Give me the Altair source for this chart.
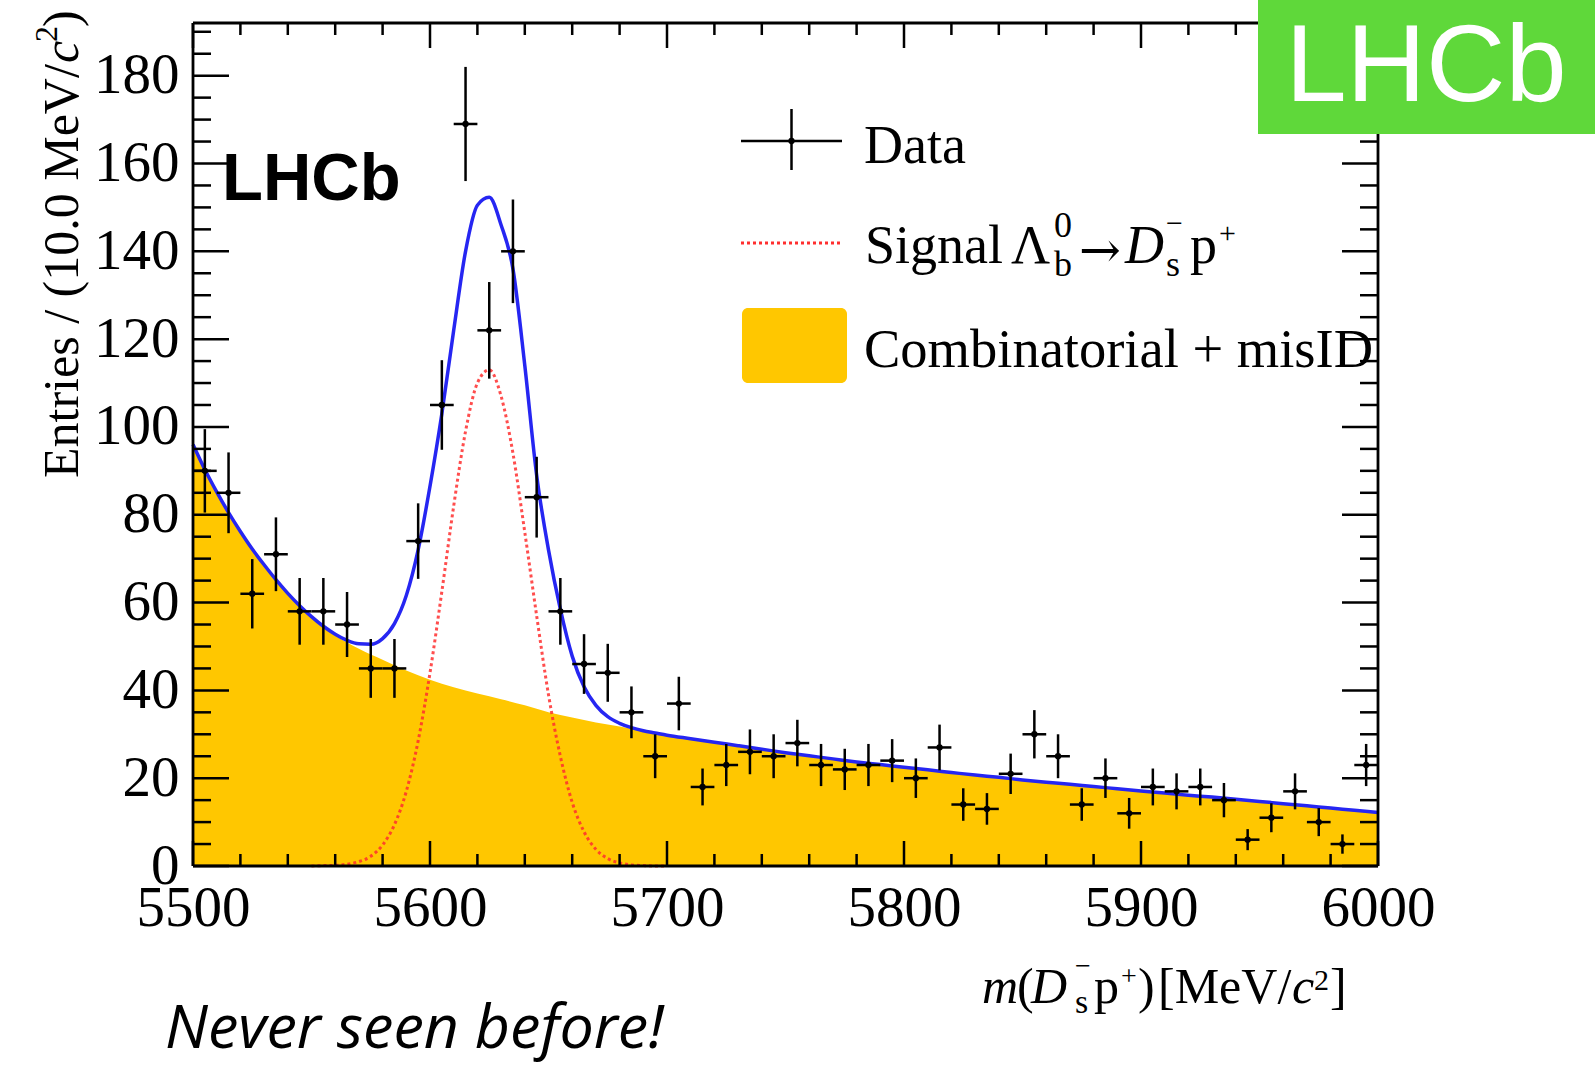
import altair as alt
import pandas as pd

# ---------------- data ----------------
bin_centres = [5505, 5515, 5525, 5535, 5545, 5555, 5565, 5575, 5585, 5595,
               5605, 5615, 5625, 5635, 5645, 5655, 5665, 5675, 5685, 5695,
               5705, 5715, 5725, 5735, 5745, 5755, 5765, 5775, 5785, 5795,
               5805, 5815, 5825, 5835, 5845, 5855, 5865, 5875, 5885, 5895,
               5905, 5915, 5925, 5935, 5945, 5955, 5965, 5975, 5985, 5995]
counts = [90, 85, 62, 71, 58, 58, 55, 45, 45, 74,
          105, 169, 122, 140, 84, 58, 46, 44, 35, 25,
          37, 18, 23, 26, 25, 28, 23, 22, 23, 24,
          20, 27, 14, 13, 21, 30, 25, 14, 20, 12,
          18, 17, 18, 15, 6, 11, 17, 10, 5, 23]
count_errors = [9.5, 9.2, 7.9, 8.4, 7.6, 7.6, 7.4, 6.7, 6.7, 8.6,
                10.2, 13.0, 11.0, 11.8, 9.2, 7.6, 6.8, 6.6, 5.9, 5.0,
                6.1, 4.2, 4.8, 5.1, 5.0, 5.3, 4.8, 4.7, 4.8, 4.9,
                4.5, 5.2, 3.7, 3.6, 4.6, 5.5, 5.0, 3.7, 4.5, 3.5,
                4.2, 4.1, 4.2, 3.9, 2.4, 3.3, 4.1, 3.2, 2.2, 4.8]
half_bin = 5

bkg_mass = [5500, 5510, 5520, 5530, 5540, 5550, 5560, 5570, 5580, 5590,
            5600, 5610, 5620, 5630, 5640, 5650, 5660, 5670, 5680, 5690,
            5700, 5710, 5720, 5730, 5740, 5750, 5760, 5770, 5780, 5790,
            5800, 5810, 5820, 5830, 5840, 5850, 5860, 5870, 5880, 5890,
            5900, 5910, 5920, 5930, 5940, 5950, 5960, 5970, 5980, 5990, 6000]
bkg_vals = [96, 85, 76, 68.5, 62, 56.5, 52.5, 49.5, 47, 44.5,
            42.4, 40.7, 39.3, 38, 36.6, 35, 33.8, 32.7, 31.8, 30.8,
            29.8, 29, 28.2, 27.4, 26.6, 25.8, 25.1, 24.4, 23.7, 23.1,
            22.5, 21.9, 21.3, 20.7, 20.2, 19.6, 19.1, 18.6, 18.1, 17.6,
            17.1, 16.6, 16.1, 15.7, 15.2, 14.7, 14.2, 13.7, 13.2, 12.7, 12.2]

total_mass = [5500, 5505, 5510, 5515, 5520, 5525, 5530, 5535, 5540, 5545,
              5550, 5555, 5560, 5565, 5570, 5575, 5580, 5585, 5590, 5595,
              5600, 5605, 5610, 5615, 5620, 5625, 5630, 5635, 5640, 5645,
              5650, 5655, 5660, 5665, 5670, 5675, 5680, 5685, 5690, 5695,
              5700, 5710, 5720, 5730, 5740, 5750, 5760, 5770, 5780, 5790,
              5800, 5810, 5820, 5830, 5840, 5850, 5860, 5870, 5880, 5890,
              5900, 5910, 5920, 5930, 5940, 5950, 5960, 5970, 5980, 5990, 6000]
total_vals = [96, 90.3, 85.2, 80.5, 76.2, 72.2, 68.6, 65.2, 62.1, 59.3,
              56.8, 54.6, 52.8, 51.4, 50.6, 50.5, 51.8, 55.2, 61.6, 72,
              86.5, 103, 122, 140, 150.5, 152.3, 146, 136, 114, 89,
              72, 58.5, 47.8, 40.8, 36.6, 34, 32.5, 31.5, 30.8, 30.3,
              29.8, 29, 28.2, 27.4, 26.6, 25.8, 25.1, 24.4, 23.7, 23.1,
              22.5, 21.9, 21.3, 20.7, 20.2, 19.6, 19.1, 18.6, 18.1, 17.6,
              17.1, 16.6, 16.1, 15.7, 15.2, 14.7, 14.2, 13.7, 13.2, 12.7, 12.2]

sig_mass = [5550, 5555, 5560, 5565, 5570, 5575, 5580, 5585, 5590, 5595,
            5600, 5605, 5610, 5615, 5620, 5625, 5630, 5635, 5640, 5645,
            5650, 5655, 5660, 5665, 5670, 5675, 5680, 5685, 5690, 5695, 5700]
sig_vals = [0, 0.1, 0.15, 0.4, 1, 2.2, 4.8, 9.4, 17, 28.5,
            44, 62.5, 82, 99, 110, 113, 107, 94, 76, 57,
            39, 25, 14.5, 7.8, 3.8, 1.7, 0.7, 0.25, 0.1, 0, 0]

x_tick_labels = [5500, 5600, 5700, 5800, 5900, 6000]
x_minor_ticks = [5520, 5540, 5560, 5580, 5620, 5640, 5660, 5680, 5720, 5740,
                 5760, 5780, 5820, 5840, 5860, 5880, 5920, 5940, 5960, 5980]
y_tick_labels = [0, 20, 40, 60, 80, 100, 120, 140, 160, 180]
y_minor_ticks = [5, 10, 15, 25, 30, 35, 45, 50, 55, 65, 70, 75, 85, 90, 95,
                 105, 110, 115, 125, 130, 135, 145, 150, 155, 165, 170, 175,
                 185, 190]

# ---------------- styling ----------------
W, H = 1185, 843
SERIF = "Liberation Serif"
SANS = "Liberation Sans"
YEL = "#FFC700"
BLUE = "#2626F2"
RED = "#FF2E2E"
GREEN = "#5FD83A"

xs = alt.Scale(domain=[5500, 6000], nice=False, zero=False)
ys = alt.Scale(domain=[0, 192], nice=False)
xaxis = alt.Axis(values=x_tick_labels, title="", ticks=False, tickSize=0, domain=False,
                 grid=False, labelFont=SERIF, labelFontSize=57, labelColor="black",
                 labelPadding=14, labelFlush=False, labelOverlap=False, format="d", zindex=1)
yaxis = alt.Axis(values=y_tick_labels, title="", ticks=False, tickSize=0, domain=False,
                 grid=False, labelFont=SERIF, labelFontSize=57, labelColor="black",
                 labelPadding=14, labelOverlap=False, format="d", zindex=1)


def X(f):
    return alt.X(f, type="quantitative", scale=xs, axis=xaxis)


def Y(f):
    return alt.Y(f, type="quantitative", scale=ys, axis=yaxis)


pts = pd.DataFrame({"m": bin_centres, "c": counts, "e": count_errors})
pts["lo"] = pts["c"] - pts["e"]
pts["hi"] = pts["c"] + pts["e"]
pts["xlo"] = pts["m"] - half_bin
pts["xhi"] = pts["m"] + half_bin

bkg_df = pd.DataFrame({"m": bkg_mass, "v": bkg_vals})
tot_df = pd.DataFrame({"m": total_mass, "v": total_vals})
sig_df = pd.DataFrame({"m": sig_mass, "v": sig_vals})

one = pd.DataFrame({"a": [0]})

layers = []
layers.append(alt.Chart(bkg_df).mark_area(color=YEL, interpolate="monotone", opacity=1)
              .encode(x=X("m"), y=Y("v")))
layers.append(alt.Chart(sig_df).mark_line(color=RED, strokeWidth=3, strokeDash=[3, 3],
                                          interpolate="monotone", opacity=0.85)
              .encode(x=X("m"), y=Y("v")))
layers.append(alt.Chart(tot_df).mark_line(color=BLUE, strokeWidth=3.5, interpolate="monotone")
              .encode(x=X("m"), y=Y("v")))
layers.append(alt.Chart(pts).mark_rule(color="black", strokeWidth=2.5)
              .encode(x=X("m"), y=Y("lo"), y2="hi:Q"))
layers.append(alt.Chart(pts).mark_rule(color="black", strokeWidth=2.5)
              .encode(x=X("xlo"), x2="xhi:Q", y=Y("c")))
layers.append(alt.Chart(pts).mark_circle(color="black", size=40, opacity=1)
              .encode(x=X("m"), y=Y("c")))

# inner ticks on all four sides
ymaj = pd.DataFrame({"v": y_tick_labels})
ymin = pd.DataFrame({"v": y_minor_ticks})
xmaj = pd.DataFrame({"v": x_tick_labels})
xmin = pd.DataFrame({"v": x_minor_ticks})
for df, ln in ((ymaj, 36), (ymin, 18)):
    layers.append(alt.Chart(df).mark_rule(color="black", strokeWidth=2.5)
                  .encode(y=Y("v"), x=alt.value(0), x2=alt.value(ln)))
    layers.append(alt.Chart(df).mark_rule(color="black", strokeWidth=2.5)
                  .encode(y=Y("v"), x=alt.value(W - ln), x2=alt.value(W)))
for df, ln in ((xmaj, 25), (xmin, 12)):
    layers.append(alt.Chart(df).mark_rule(color="black", strokeWidth=2.5)
                  .encode(x=X("v"), y=alt.value(H), y2=alt.value(H - ln)))
    layers.append(alt.Chart(df).mark_rule(color="black", strokeWidth=2.5)
                  .encode(x=X("v"), y=alt.value(0), y2=alt.value(ln)))

# frame
for enc in (dict(x=alt.value(0), x2=alt.value(W), y=alt.value(0)),
            dict(x=alt.value(0), x2=alt.value(W), y=alt.value(H)),
            dict(y=alt.value(0), y2=alt.value(H), x=alt.value(0)),
            dict(y=alt.value(0), y2=alt.value(H), x=alt.value(W))):
    layers.append(alt.Chart(one).mark_rule(color="black", strokeWidth=2.8).encode(**enc))


def txt(s, x, y, size, font=SERIF, style="normal", weight="normal", color="black",
        align="left", angle=0):
    kw = dict(font=font, fontSize=size, fontStyle=style, fontWeight=weight, color=color,
              align=align, baseline="alphabetic")
    if angle:
        kw["angle"] = angle
    return (alt.Chart(pd.DataFrame({"t": [s]})).mark_text(**kw)
            .encode(text="t:N", x=alt.value(x), y=alt.value(y)))


# LHCb label inside plot
layers.append(txt("LHCb", 29, 177, 67, font=SANS, weight="bold"))

# legend
layers.append(alt.Chart(one).mark_rule(color="black", strokeWidth=2.5)
              .encode(x=alt.value(548), x2=alt.value(649), y=alt.value(118)))
layers.append(alt.Chart(one).mark_rule(color="black", strokeWidth=2.5)
              .encode(x=alt.value(598.5), y=alt.value(86), y2=alt.value(147)))
layers.append(alt.Chart(one).mark_circle(color="black", size=40, opacity=1)
              .encode(x=alt.value(598.5), y=alt.value(118)))
layers.append(alt.Chart(one).mark_rule(color=RED, strokeWidth=3, strokeDash=[3, 3])
              .encode(x=alt.value(548), x2=alt.value(649), y=alt.value(220)))
layers.append(alt.Chart(one).mark_rect(color=YEL, cornerRadius=6)
              .encode(x=alt.value(549), x2=alt.value(654), y=alt.value(285), y2=alt.value(360)))
layers.append(txt("Data", 671, 140, 54))
layers.append(txt("Combinatorial + misID", 671, 344, 54.5))
layers.append(txt("Signal", 672, 240, 54))
layers.append(txt("\u039b", 818, 240, 54))
layers.append(txt("0", 861, 214, 36))
layers.append(txt("b", 861, 253, 36))
layers.append(txt("\u2192", 886, 244, 50, font="DejaVu Serif"))
layers.append(txt("D", 932, 240, 54, style="italic"))
layers.append(txt("\u2212", 973, 210, 30))
layers.append(txt("s", 973, 253, 36))
layers.append(txt("p", 997, 240, 54))
layers.append(txt("+", 1026, 220, 30))

# x-axis title
layers.append(txt("m", 789, 980, 50, style="italic"))
layers.append(txt("(", 824, 980, 50))
layers.append(txt("D", 838, 980, 50, style="italic"))
layers.append(txt("\u2212", 882, 952, 28))
layers.append(txt("s", 882, 990, 34))
layers.append(txt("p", 901, 980, 50))
layers.append(txt("+", 928, 962, 28))
layers.append(txt(")", 945, 980, 50))
layers.append(txt("[MeV/", 965, 980, 50))
layers.append(txt("c", 1099, 980, 50, style="italic"))
layers.append(txt("2", 1121, 967, 30))
layers.append(txt("]", 1137, 980, 50))

# y-axis title (rotated)
layers.append(txt("Entries / (10.0 MeV/", -115, 455, 50, angle=270))
layers.append(txt("c", -115, 40, 50, style="italic", angle=270))
layers.append(txt("2", -136, 19, 32, angle=270))
layers.append(txt(")", -115, 4, 50, angle=270))

# caption
layers.append(txt("Never seen before!", -28, 1025, 61, font="Open Sans", style="italic"))

# green LHCb badge
layers.append(alt.Chart(one).mark_rect(color=GREEN)
              .encode(x=alt.value(1065), x2=alt.value(1402), y=alt.value(-23), y2=alt.value(111)))
layers.append(txt("LHCb", 1233, 78, 110, font=SANS, color="white", align="center"))

chart = (alt.layer(*layers)
         .properties(width=W, height=H,
                     padding={"left": 193, "top": 23, "right": 217, "bottom": 200},
                     autosize=alt.AutoSizeParams(type="none"))
         .configure_view(strokeWidth=0)
         .configure(background="white"))

chart.save("out.html", embed_options={"renderer": "svg", "actions": False})
